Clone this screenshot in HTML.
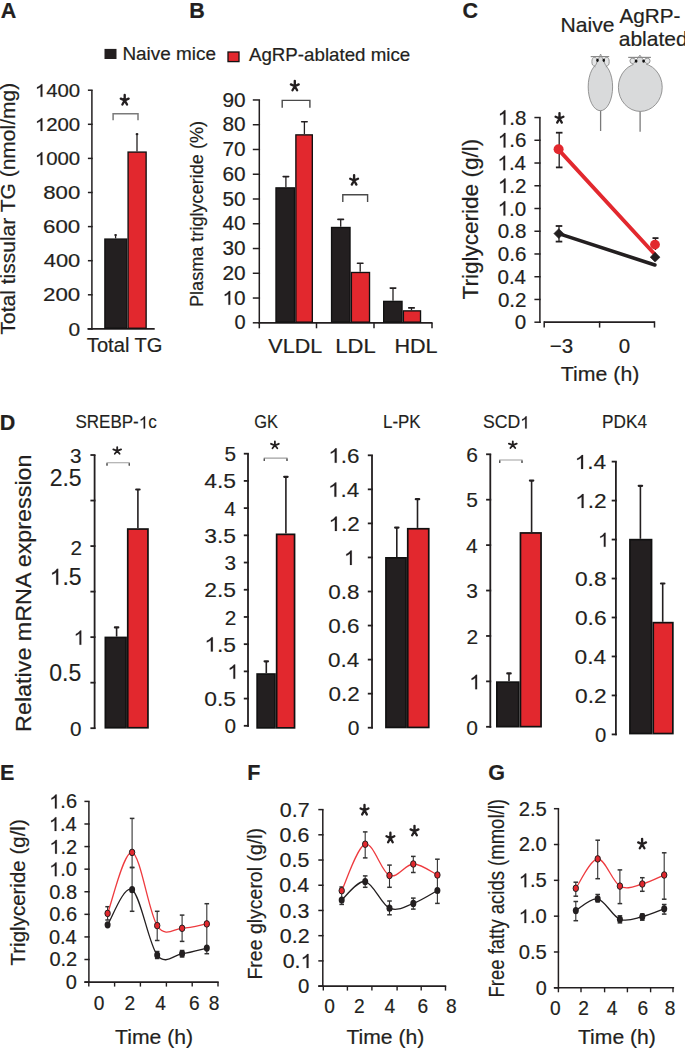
<!DOCTYPE html>
<html><head><meta charset="utf-8"><style>
html,body{margin:0;padding:0;background:#fff;}
svg{display:block;}
text{font-family:"Liberation Sans", sans-serif;fill:#231f20;stroke:#231f20;stroke-width:0.2px;}
.g1{fill:#231f20;stroke:#231f20;stroke-width:0.2px;}
.ns{stroke-width:0.15px;}
</style></head><body>
<svg width="685" height="1049" viewBox="0 0 685 1049">
<rect width="685" height="1049" fill="#fff"/>
<text x="0.66" y="18.00" font-size="21.5" font-weight="bold">A</text>
<rect x="104.50" y="48.90" width="12.00" height="10.10" fill="#231f20"/>
<text x="122.44" y="60.20" font-size="18.8" textLength="93.58" lengthAdjust="spacingAndGlyphs">Naive mice</text>
<rect x="228.00" y="52.00" width="11.00" height="9.60" fill="#e2282e" stroke="#111" stroke-width="1.3"/>
<text x="248.95" y="61.00" font-size="18.5" textLength="161.25" lengthAdjust="spacingAndGlyphs">AgRP-ablated mice</text>
<line x1="91.90" y1="90.20" x2="91.90" y2="329.65" stroke="#231f20" stroke-width="1.5" stroke-linecap="butt"/>
<line x1="87.90" y1="328.90" x2="92.65" y2="328.90" stroke="#231f20" stroke-width="1.5" stroke-linecap="butt"/>
<line x1="87.90" y1="294.80" x2="92.65" y2="294.80" stroke="#231f20" stroke-width="1.5" stroke-linecap="butt"/>
<line x1="87.90" y1="260.70" x2="92.65" y2="260.70" stroke="#231f20" stroke-width="1.5" stroke-linecap="butt"/>
<line x1="87.90" y1="226.60" x2="92.65" y2="226.60" stroke="#231f20" stroke-width="1.5" stroke-linecap="butt"/>
<line x1="87.90" y1="192.50" x2="92.65" y2="192.50" stroke="#231f20" stroke-width="1.5" stroke-linecap="butt"/>
<line x1="87.90" y1="158.40" x2="92.65" y2="158.40" stroke="#231f20" stroke-width="1.5" stroke-linecap="butt"/>
<line x1="87.90" y1="124.30" x2="92.65" y2="124.30" stroke="#231f20" stroke-width="1.5" stroke-linecap="butt"/>
<line x1="87.90" y1="90.20" x2="92.65" y2="90.20" stroke="#231f20" stroke-width="1.5" stroke-linecap="butt"/>
<text x="68.56" y="335.56" font-size="18.5" textLength="11.65" lengthAdjust="spacingAndGlyphs">0</text>
<text x="43.09" y="301.46" font-size="18.5" textLength="37.17" lengthAdjust="spacingAndGlyphs">200</text>
<text x="43.71" y="267.36" font-size="18.5" textLength="36.54" lengthAdjust="spacingAndGlyphs">400</text>
<text x="43.09" y="233.26" font-size="18.5" textLength="37.17" lengthAdjust="spacingAndGlyphs">600</text>
<text x="43.26" y="199.16" font-size="18.5" textLength="37.00" lengthAdjust="spacingAndGlyphs">800</text>
<text x="34.79" y="165.06" font-size="18.5" textLength="45.42" lengthAdjust="spacingAndGlyphs"> 000</text>
<path class="g1" d="M42.39 165.06 L40.60 165.06 L40.60 155.12 Q39.95 155.66 38.89 156.21 Q37.84 156.75 37.00 157.02 L37.00 155.48 Q38.51 154.85 39.63 153.95 Q40.76 153.05 41.23 152.33 L42.39 152.33 Z"/>
<text x="34.79" y="130.96" font-size="18.5" textLength="45.42" lengthAdjust="spacingAndGlyphs"> 200</text>
<path class="g1" d="M42.39 130.96 L40.60 130.96 L40.60 121.02 Q39.95 121.56 38.89 122.11 Q37.84 122.65 37.00 122.92 L37.00 121.38 Q38.51 120.75 39.63 119.85 Q40.76 118.95 41.23 118.23 L42.39 118.23 Z"/>
<text x="34.79" y="96.86" font-size="18.5" textLength="45.42" lengthAdjust="spacingAndGlyphs"> 400</text>
<path class="g1" d="M42.39 96.86 L40.60 96.86 L40.60 86.92 Q39.95 87.46 38.89 88.01 Q37.84 88.55 37.00 88.82 L37.00 87.28 Q38.51 86.65 39.63 85.75 Q40.76 84.85 41.23 84.13 L42.39 84.13 Z"/>
<line x1="87.50" y1="328.90" x2="154.70" y2="328.90" stroke="#231f20" stroke-width="1.8" stroke-linecap="butt"/>
<rect x="104.88" y="239.08" width="21.85" height="89.15" fill="#231f20" stroke="#111" stroke-width="1.35"/>
<rect x="128.08" y="152.08" width="18.05" height="176.15" fill="#e2282e" stroke="#111" stroke-width="1.35"/>
<line x1="115.60" y1="238.40" x2="115.60" y2="235.00" stroke="#231f20" stroke-width="1.3" stroke-linecap="butt"/>
<ellipse cx="115.6" cy="235.0" rx="1.4" ry="1.1" fill="#231f20"/>
<line x1="137.00" y1="151.40" x2="137.00" y2="134.20" stroke="#231f20" stroke-width="1.3" stroke-linecap="butt"/>
<ellipse cx="137.0" cy="134.2" rx="1.4" ry="1.1" fill="#231f20"/>
<polyline points="113.10,120.20 113.10,113.70 138.00,113.70 138.00,120.20" fill="none" stroke="#7a7a7a" stroke-width="1.5"/>
<path d="M124.70 100.40L124.70 95.00M124.70 100.40L120.80 98.60M124.70 100.40L128.60 98.60M124.70 100.40L122.40 104.50M124.70 100.40L127.00 104.50" stroke="#231f20" stroke-width="2.35" stroke-linecap="round" fill="none"/>
<text x="86.85" y="351.60" font-size="20" textLength="75.68" lengthAdjust="spacingAndGlyphs">Total TG</text>
<text x="15.40" y="334.47" transform="rotate(-90 15.40 334.47)" font-size="21">Total tissular TG (nmol/mg)</text>
<text x="189.35" y="18.00" font-size="21.5" font-weight="bold">B</text>
<line x1="259.30" y1="99.96" x2="259.30" y2="323.55" stroke="#231f20" stroke-width="1.5" stroke-linecap="butt"/>
<line x1="252.80" y1="322.80" x2="260.05" y2="322.80" stroke="#231f20" stroke-width="1.5" stroke-linecap="butt"/>
<line x1="252.80" y1="298.04" x2="260.05" y2="298.04" stroke="#231f20" stroke-width="1.5" stroke-linecap="butt"/>
<line x1="252.80" y1="273.28" x2="260.05" y2="273.28" stroke="#231f20" stroke-width="1.5" stroke-linecap="butt"/>
<line x1="252.80" y1="248.52" x2="260.05" y2="248.52" stroke="#231f20" stroke-width="1.5" stroke-linecap="butt"/>
<line x1="252.80" y1="223.76" x2="260.05" y2="223.76" stroke="#231f20" stroke-width="1.5" stroke-linecap="butt"/>
<line x1="252.80" y1="199.00" x2="260.05" y2="199.00" stroke="#231f20" stroke-width="1.5" stroke-linecap="butt"/>
<line x1="252.80" y1="174.24" x2="260.05" y2="174.24" stroke="#231f20" stroke-width="1.5" stroke-linecap="butt"/>
<line x1="252.80" y1="149.48" x2="260.05" y2="149.48" stroke="#231f20" stroke-width="1.5" stroke-linecap="butt"/>
<line x1="252.80" y1="124.72" x2="260.05" y2="124.72" stroke="#231f20" stroke-width="1.5" stroke-linecap="butt"/>
<line x1="252.80" y1="99.96" x2="260.05" y2="99.96" stroke="#231f20" stroke-width="1.5" stroke-linecap="butt"/>
<text x="234.45" y="329.48" font-size="20">0</text>
<text x="222.49" y="304.72" font-size="20" textLength="23.14" lengthAdjust="spacingAndGlyphs"> 0</text>
<path class="g1" d="M230.24 304.72 L228.41 304.72 L228.41 293.97 Q227.75 294.56 226.68 295.14 Q225.60 295.73 224.75 296.02 L224.75 294.36 Q226.28 293.68 227.43 292.70 Q228.58 291.73 229.05 290.96 L230.24 290.96 Z"/>
<text x="222.49" y="279.96" font-size="20" textLength="23.14" lengthAdjust="spacingAndGlyphs">20</text>
<text x="222.49" y="255.20" font-size="20" textLength="23.14" lengthAdjust="spacingAndGlyphs">30</text>
<text x="222.49" y="230.44" font-size="20" textLength="23.14" lengthAdjust="spacingAndGlyphs">40</text>
<text x="222.49" y="205.68" font-size="20" textLength="23.14" lengthAdjust="spacingAndGlyphs">50</text>
<text x="222.49" y="180.92" font-size="20" textLength="23.14" lengthAdjust="spacingAndGlyphs">60</text>
<text x="222.49" y="156.16" font-size="20" textLength="23.14" lengthAdjust="spacingAndGlyphs">70</text>
<text x="222.49" y="131.40" font-size="20" textLength="23.14" lengthAdjust="spacingAndGlyphs">80</text>
<text x="222.49" y="106.64" font-size="20" textLength="23.14" lengthAdjust="spacingAndGlyphs">90</text>
<line x1="258.55" y1="322.80" x2="432.50" y2="322.80" stroke="#231f20" stroke-width="1.8" stroke-linecap="butt"/>
<line x1="259.30" y1="322.80" x2="259.30" y2="328.30" stroke="#231f20" stroke-width="1.5" stroke-linecap="butt"/>
<line x1="316.50" y1="322.80" x2="316.50" y2="328.30" stroke="#231f20" stroke-width="1.5" stroke-linecap="butt"/>
<line x1="374.00" y1="322.80" x2="374.00" y2="328.30" stroke="#231f20" stroke-width="1.5" stroke-linecap="butt"/>
<line x1="432.00" y1="322.80" x2="432.00" y2="328.30" stroke="#231f20" stroke-width="1.5" stroke-linecap="butt"/>
<rect x="275.98" y="187.88" width="18.55" height="134.25" fill="#231f20" stroke="#111" stroke-width="1.35"/>
<rect x="295.88" y="134.88" width="16.45" height="187.25" fill="#e2282e" stroke="#111" stroke-width="1.35"/>
<line x1="285.90" y1="187.20" x2="285.90" y2="176.60" stroke="#231f20" stroke-width="1.3" stroke-linecap="butt"/>
<line x1="283.15" y1="176.60" x2="288.65" y2="176.60" stroke="#231f20" stroke-width="1.6" stroke-linecap="round"/>
<line x1="304.40" y1="134.20" x2="304.40" y2="121.80" stroke="#231f20" stroke-width="1.3" stroke-linecap="butt"/>
<line x1="301.65" y1="121.80" x2="307.15" y2="121.80" stroke="#231f20" stroke-width="1.6" stroke-linecap="round"/>
<rect x="331.57" y="227.48" width="18.45" height="94.65" fill="#231f20" stroke="#111" stroke-width="1.35"/>
<rect x="351.38" y="272.48" width="18.15" height="49.65" fill="#e2282e" stroke="#111" stroke-width="1.35"/>
<line x1="340.70" y1="226.80" x2="340.70" y2="219.40" stroke="#231f20" stroke-width="1.3" stroke-linecap="butt"/>
<line x1="337.95" y1="219.40" x2="343.45" y2="219.40" stroke="#231f20" stroke-width="1.6" stroke-linecap="round"/>
<line x1="360.20" y1="271.80" x2="360.20" y2="263.20" stroke="#231f20" stroke-width="1.3" stroke-linecap="butt"/>
<line x1="357.45" y1="263.20" x2="362.95" y2="263.20" stroke="#231f20" stroke-width="1.6" stroke-linecap="round"/>
<rect x="383.68" y="301.38" width="18.35" height="20.75" fill="#231f20" stroke="#111" stroke-width="1.35"/>
<rect x="403.38" y="310.88" width="17.15" height="11.25" fill="#e2282e" stroke="#111" stroke-width="1.35"/>
<line x1="393.00" y1="300.70" x2="393.00" y2="288.10" stroke="#231f20" stroke-width="1.3" stroke-linecap="butt"/>
<line x1="390.25" y1="288.10" x2="395.75" y2="288.10" stroke="#231f20" stroke-width="1.6" stroke-linecap="round"/>
<line x1="411.50" y1="310.20" x2="411.50" y2="307.90" stroke="#231f20" stroke-width="1.3" stroke-linecap="butt"/>
<line x1="408.75" y1="307.90" x2="414.25" y2="307.90" stroke="#231f20" stroke-width="1.6" stroke-linecap="round"/>
<polyline points="282.20,107.70 282.20,100.40 309.90,100.40 309.90,107.70" fill="none" stroke="#4a4a4a" stroke-width="1.4"/>
<path d="M294.80 86.20L294.80 80.80M294.80 86.20L290.90 84.40M294.80 86.20L298.70 84.40M294.80 86.20L292.50 90.30M294.80 86.20L297.10 90.30" stroke="#231f20" stroke-width="2.35" stroke-linecap="round" fill="none"/>
<polyline points="342.80,202.10 342.80,194.80 367.60,194.80 367.60,202.10" fill="none" stroke="#4a4a4a" stroke-width="1.4"/>
<path d="M354.10 180.50L354.10 175.10M354.10 180.50L350.20 178.70M354.10 180.50L358.00 178.70M354.10 180.50L351.80 184.60M354.10 180.50L356.40 184.60" stroke="#231f20" stroke-width="2.35" stroke-linecap="round" fill="none"/>
<text x="268.39" y="352.70" font-size="20.8" textLength="53.84" lengthAdjust="spacingAndGlyphs">VLDL</text>
<text x="335.28" y="352.70" font-size="20.8" textLength="40.38" lengthAdjust="spacingAndGlyphs">LDL</text>
<text x="394.42" y="352.70" font-size="20.8" textLength="43.19" lengthAdjust="spacingAndGlyphs">HDL</text>
<text x="203.30" y="306.99" transform="rotate(-90 203.30 306.99)" font-size="18.8" textLength="186.03" lengthAdjust="spacingAndGlyphs">Plasma triglyceride (%)</text>
<text x="462.44" y="18.20" font-size="21.5" font-weight="bold">C</text>
<text x="560.56" y="31.80" font-size="20.3" textLength="53.98" lengthAdjust="spacingAndGlyphs">Naive</text>
<text x="619.45" y="22.80" font-size="21" textLength="60.99" lengthAdjust="spacingAndGlyphs">AgRP-</text>
<text x="618.71" y="46.00" font-size="21">ablated</text>
<line x1="600.60" y1="109.70" x2="600.60" y2="131.00" stroke="#7a7a7a" stroke-width="1.3" stroke-linecap="butt"/>
<ellipse cx="594.50" cy="61.70" rx="2.6" ry="4.3" fill="#e4e5e6" stroke="#8a8a8a" stroke-width="0.9"/>
<ellipse cx="606.60" cy="61.70" rx="2.6" ry="4.3" fill="#e4e5e6" stroke="#8a8a8a" stroke-width="0.9"/>
<ellipse cx="600.40" cy="86.95" rx="12.20" ry="23.75" fill="#d9dadb" stroke="#8a8a8a" stroke-width="0.9"/>
<path d="M600.60 54.00 Q597.99 60.50 594.80 67.00 L606.40 67.00 Q603.21 60.50 600.60 54.00 Z" fill="#d9dadb" stroke="#8a8a8a" stroke-width="0.8"/>
<rect x="595.40" y="65.50" width="10.40" height="3" fill="#d9dadb"/>
<line x1="590.70" y1="56.60" x2="609.20" y2="56.60" stroke="#8a8a8a" stroke-width="1.2" stroke-linecap="butt"/>
<ellipse cx="597.50" cy="60.30" rx="1.15" ry="1.7" fill="#111"/>
<ellipse cx="603.80" cy="60.30" rx="1.15" ry="1.7" fill="#111"/>
<line x1="640.10" y1="110.40" x2="640.10" y2="131.70" stroke="#7a7a7a" stroke-width="1.3" stroke-linecap="butt"/>
<ellipse cx="632.80" cy="60.90" rx="2.9" ry="2.7" fill="#e4e5e6" stroke="#8a8a8a" stroke-width="0.9"/>
<ellipse cx="647.20" cy="60.90" rx="2.9" ry="2.7" fill="#e4e5e6" stroke="#8a8a8a" stroke-width="0.9"/>
<ellipse cx="640.30" cy="87.30" rx="21.90" ry="24.10" fill="#d9dadb" stroke="#8a8a8a" stroke-width="0.9"/>
<path d="M639.90 55.10 Q636.75 59.80 632.90 64.50 L646.90 64.50 Q643.05 59.80 639.90 55.10 Z" fill="#d9dadb" stroke="#8a8a8a" stroke-width="0.8"/>
<rect x="633.50" y="63.00" width="12.80" height="3" fill="#d9dadb"/>
<line x1="628.20" y1="57.40" x2="650.90" y2="57.40" stroke="#8a8a8a" stroke-width="1.2" stroke-linecap="butt"/>
<ellipse cx="636.10" cy="61.10" rx="1.4" ry="1.6" fill="#111"/>
<ellipse cx="643.60" cy="61.10" rx="1.4" ry="1.6" fill="#111"/>
<line x1="539.90" y1="117.54" x2="539.90" y2="322.95" stroke="#231f20" stroke-width="1.5" stroke-linecap="butt"/>
<line x1="534.40" y1="322.20" x2="540.65" y2="322.20" stroke="#231f20" stroke-width="1.5" stroke-linecap="butt"/>
<line x1="534.40" y1="299.46" x2="540.65" y2="299.46" stroke="#231f20" stroke-width="1.5" stroke-linecap="butt"/>
<line x1="534.40" y1="276.72" x2="540.65" y2="276.72" stroke="#231f20" stroke-width="1.5" stroke-linecap="butt"/>
<line x1="534.40" y1="253.98" x2="540.65" y2="253.98" stroke="#231f20" stroke-width="1.5" stroke-linecap="butt"/>
<line x1="534.40" y1="231.24" x2="540.65" y2="231.24" stroke="#231f20" stroke-width="1.5" stroke-linecap="butt"/>
<line x1="534.40" y1="208.50" x2="540.65" y2="208.50" stroke="#231f20" stroke-width="1.5" stroke-linecap="butt"/>
<line x1="534.40" y1="185.76" x2="540.65" y2="185.76" stroke="#231f20" stroke-width="1.5" stroke-linecap="butt"/>
<line x1="534.40" y1="163.02" x2="540.65" y2="163.02" stroke="#231f20" stroke-width="1.5" stroke-linecap="butt"/>
<line x1="534.40" y1="140.28" x2="540.65" y2="140.28" stroke="#231f20" stroke-width="1.5" stroke-linecap="butt"/>
<line x1="534.40" y1="117.54" x2="540.65" y2="117.54" stroke="#231f20" stroke-width="1.5" stroke-linecap="butt"/>
<text x="514.85" y="329.32" font-size="21" textLength="11.45" lengthAdjust="spacingAndGlyphs">0</text>
<text x="497.92" y="306.58" font-size="21" textLength="28.61" lengthAdjust="spacingAndGlyphs">0.2</text>
<text x="497.46" y="283.84" font-size="21" textLength="28.61" lengthAdjust="spacingAndGlyphs">0.4</text>
<text x="497.77" y="261.10" font-size="21" textLength="28.61" lengthAdjust="spacingAndGlyphs">0.6</text>
<text x="497.77" y="238.36" font-size="21" textLength="28.61" lengthAdjust="spacingAndGlyphs">0.8</text>
<text x="497.67" y="215.62" font-size="21" textLength="28.61" lengthAdjust="spacingAndGlyphs"> .0</text>
<path class="g1" d="M505.33 215.62 L503.52 215.62 L503.52 204.34 Q502.87 204.95 501.81 205.57 Q500.74 206.19 499.90 206.49 L499.90 204.75 Q501.41 204.03 502.55 203.01 Q503.68 201.98 504.16 201.17 L505.33 201.17 Z"/>
<text x="497.92" y="192.98" font-size="21" textLength="28.61" lengthAdjust="spacingAndGlyphs"> .2</text>
<path class="g1" d="M505.59 192.98 L503.78 192.98 L503.78 181.70 Q503.13 182.32 502.06 182.93 Q501.00 183.55 500.15 183.86 L500.15 182.11 Q501.67 181.40 502.81 180.37 Q503.94 179.35 504.41 178.54 L505.59 178.54 Z"/>
<text x="497.46" y="170.14" font-size="21" textLength="28.61" lengthAdjust="spacingAndGlyphs"> .4</text>
<path class="g1" d="M505.13 170.14 L503.32 170.14 L503.32 158.86 Q502.67 159.48 501.60 160.10 Q500.53 160.71 499.69 161.02 L499.69 159.27 Q501.21 158.56 502.34 157.53 Q503.48 156.51 503.95 155.70 L505.13 155.70 Z"/>
<text x="497.77" y="147.40" font-size="21" textLength="28.61" lengthAdjust="spacingAndGlyphs"> .6</text>
<path class="g1" d="M505.44 147.40 L503.63 147.40 L503.63 136.12 Q502.97 136.73 501.91 137.35 Q500.84 137.97 500.00 138.27 L500.00 136.53 Q501.52 135.81 502.65 134.79 Q503.79 133.76 504.26 132.95 L505.44 132.95 Z"/>
<text x="497.77" y="124.66" font-size="21" textLength="28.61" lengthAdjust="spacingAndGlyphs"> .8</text>
<path class="g1" d="M505.44 124.66 L503.63 124.66 L503.63 113.38 Q502.97 113.99 501.91 114.61 Q500.84 115.23 500.00 115.53 L500.00 113.79 Q501.52 113.07 502.65 112.05 Q503.79 111.02 504.26 110.21 L505.44 110.21 Z"/>
<line x1="544.20" y1="322.20" x2="654.50" y2="322.20" stroke="#231f20" stroke-width="1.8" stroke-linecap="butt"/>
<line x1="544.20" y1="321.30" x2="544.20" y2="327.60" stroke="#231f20" stroke-width="1.5" stroke-linecap="butt"/>
<line x1="599.60" y1="321.30" x2="599.60" y2="327.60" stroke="#231f20" stroke-width="1.5" stroke-linecap="butt"/>
<line x1="654.50" y1="321.30" x2="654.50" y2="327.60" stroke="#231f20" stroke-width="1.5" stroke-linecap="butt"/>
<text x="549.67" y="353.00" font-size="20.5">−3</text>
<text x="618.79" y="353.00" font-size="20.5">0</text>
<text x="560.82" y="381.30" font-size="20.6" textLength="78.51" lengthAdjust="spacingAndGlyphs">Time (h)</text>
<text x="478.00" y="299.51" transform="rotate(-90 478.00 299.51)" font-size="21.5" textLength="160.74" lengthAdjust="spacingAndGlyphs">Triglyceride (g/l)</text>
<line x1="558.70" y1="233.60" x2="654.90" y2="265.00" stroke="#231f20" stroke-width="3.6" stroke-linecap="round"/>
<line x1="558.30" y1="149.40" x2="654.50" y2="254.00" stroke="#e2282e" stroke-width="3.8" stroke-linecap="round"/>
<line x1="559.20" y1="132.70" x2="559.20" y2="167.40" stroke="#231f20" stroke-width="1.3" stroke-linecap="butt"/>
<line x1="555.90" y1="132.70" x2="562.50" y2="132.70" stroke="#231f20" stroke-width="1.8" stroke-linecap="butt"/>
<line x1="555.90" y1="167.40" x2="562.50" y2="167.40" stroke="#231f20" stroke-width="1.8" stroke-linecap="butt"/>
<line x1="559.00" y1="226.00" x2="559.00" y2="241.60" stroke="#231f20" stroke-width="1.3" stroke-linecap="butt"/>
<line x1="555.70" y1="226.00" x2="562.30" y2="226.00" stroke="#231f20" stroke-width="1.8" stroke-linecap="butt"/>
<line x1="555.70" y1="241.60" x2="562.30" y2="241.60" stroke="#231f20" stroke-width="1.8" stroke-linecap="butt"/>
<line x1="655.50" y1="238.10" x2="655.50" y2="250.00" stroke="#231f20" stroke-width="1.3" stroke-linecap="butt"/>
<line x1="652.50" y1="238.10" x2="658.50" y2="238.10" stroke="#231f20" stroke-width="1.8" stroke-linecap="butt"/>
<path d="M558.8 228.7 L563.7 233.6 L558.8 238.5 L553.9 233.6 Z" fill="#231f20" stroke="#231f20" stroke-width="0.6" stroke-linejoin="round"/>
<path d="M655.1 252.3 L660.0 257.2 L655.1 262.1 L650.2 257.2 Z" fill="#231f20" stroke="#231f20" stroke-width="0.6" stroke-linejoin="round"/>
<circle cx="558.6" cy="149.3" r="5.0" fill="#e2282e"/>
<circle cx="655.0" cy="244.6" r="4.9" fill="#e2282e"/>
<path d="M559.50 118.50L559.50 113.10M559.50 118.50L555.60 116.70M559.50 118.50L563.40 116.70M559.50 118.50L557.20 122.60M559.50 118.50L561.80 122.60" stroke="#231f20" stroke-width="2.35" stroke-linecap="round" fill="none"/>
<text x="-0.25" y="429.60" font-size="21.5" font-weight="bold">D</text>
<text x="75.43" y="428.40" font-size="17.5" class="ns" textLength="81.32" lengthAdjust="spacingAndGlyphs">SREBP- c</text>
<path class="g1 ns" d="M145.12 428.40 L143.63 428.40 L143.63 419.00 Q143.09 419.51 142.21 420.03 Q141.33 420.54 140.63 420.80 L140.63 419.34 Q141.88 418.74 142.82 417.89 Q143.76 417.04 144.15 416.36 L145.12 416.36 Z"/>
<text x="254.18" y="428.40" font-size="17.5" class="ns" textLength="23.72" lengthAdjust="spacingAndGlyphs">GK</text>
<text x="383.00" y="428.40" font-size="17.5" class="ns" textLength="37.62" lengthAdjust="spacingAndGlyphs">L-PK</text>
<text x="482.91" y="428.40" font-size="17.5" class="ns" textLength="47.03" lengthAdjust="spacingAndGlyphs">SCD </text>
<path class="g1 ns" d="M526.70 428.40 L525.15 428.40 L525.15 419.00 Q524.59 419.51 523.68 420.03 Q522.77 420.54 522.04 420.80 L522.04 419.34 Q523.34 418.74 524.32 417.89 Q525.29 417.04 525.69 416.36 L526.70 416.36 Z"/>
<text x="602.08" y="428.40" font-size="17.5" class="ns" textLength="44.93" lengthAdjust="spacingAndGlyphs">PDK4</text>
<line x1="94.60" y1="455.02" x2="94.60" y2="729.10" stroke="#231f20" stroke-width="1.8" stroke-linecap="butt"/>
<line x1="90.40" y1="728.20" x2="95.50" y2="728.20" stroke="#231f20" stroke-width="1.8" stroke-linecap="butt"/>
<line x1="90.40" y1="682.67" x2="95.50" y2="682.67" stroke="#231f20" stroke-width="1.8" stroke-linecap="butt"/>
<line x1="90.40" y1="637.14" x2="95.50" y2="637.14" stroke="#231f20" stroke-width="1.8" stroke-linecap="butt"/>
<line x1="90.40" y1="591.61" x2="95.50" y2="591.61" stroke="#231f20" stroke-width="1.8" stroke-linecap="butt"/>
<line x1="90.40" y1="546.08" x2="95.50" y2="546.08" stroke="#231f20" stroke-width="1.8" stroke-linecap="butt"/>
<line x1="90.40" y1="500.55" x2="95.50" y2="500.55" stroke="#231f20" stroke-width="1.8" stroke-linecap="butt"/>
<line x1="90.40" y1="455.02" x2="95.50" y2="455.02" stroke="#231f20" stroke-width="1.8" stroke-linecap="butt"/>
<text x="70.09" y="462.82" font-size="20.7" class="ns">3</text>
<text x="49.65" y="486.11" font-size="23" class="ns">2.5</text>
<text x="70.45" y="555.02" font-size="20.7" class="ns">2</text>
<text x="49.65" y="584.70" font-size="23" class="ns"> .5</text>
<path class="g1 ns" d="M58.22 584.70 L56.20 584.70 L56.20 572.34 Q55.47 573.02 54.28 573.69 Q53.09 574.36 52.14 574.70 L52.14 572.79 Q53.84 572.01 55.11 570.88 Q56.38 569.76 56.90 568.87 L58.22 568.87 Z"/>
<text x="73.59" y="644.72" font-size="20.7" class="ns"> </text>
<path class="g1 ns" d="M81.30 644.72 L79.48 644.72 L79.48 633.60 Q78.82 634.21 77.75 634.82 Q76.68 635.42 75.83 635.73 L75.83 634.01 Q77.36 633.30 78.50 632.29 Q79.64 631.28 80.12 630.48 L81.30 630.48 Z"/>
<text x="49.25" y="680.91" font-size="23" class="ns">0.5</text>
<text x="69.89" y="735.52" font-size="20.7" class="ns">0</text>
<rect x="105.35" y="637.45" width="20.70" height="90.30" fill="#231f20" stroke="#111" stroke-width="1.7"/>
<rect x="127.75" y="529.05" width="20.20" height="198.70" fill="#e2282e" stroke="#111" stroke-width="1.7"/>
<line x1="116.60" y1="636.60" x2="116.60" y2="627.40" stroke="#231f20" stroke-width="1.6" stroke-linecap="butt"/>
<line x1="114.90" y1="627.40" x2="118.30" y2="627.40" stroke="#231f20" stroke-width="2.2" stroke-linecap="round"/>
<line x1="137.90" y1="528.20" x2="137.90" y2="489.50" stroke="#231f20" stroke-width="1.6" stroke-linecap="butt"/>
<line x1="136.20" y1="489.50" x2="139.60" y2="489.50" stroke="#231f20" stroke-width="2.2" stroke-linecap="round"/>
<polyline points="107.00,465.30 107.00,462.70 129.30,462.70 129.30,465.30" fill="none" stroke="#a0a0a0" stroke-width="1.1"/>
<line x1="107.00" y1="463.20" x2="107.00" y2="465.70" stroke="#555" stroke-width="1.4" stroke-linecap="butt"/>
<line x1="129.30" y1="463.20" x2="129.30" y2="465.70" stroke="#555" stroke-width="1.4" stroke-linecap="butt"/>
<path d="M117.20 450.90L117.20 447.10M117.20 450.90L113.30 449.40M117.20 450.90L121.10 449.40M117.20 450.90L114.80 453.80M117.20 450.90L119.60 453.80" stroke="#231f20" stroke-width="1.8" stroke-linecap="round" fill="none"/>
<line x1="248.00" y1="453.70" x2="248.00" y2="726.70" stroke="#231f20" stroke-width="1.8" stroke-linecap="butt"/>
<line x1="243.80" y1="725.80" x2="248.90" y2="725.80" stroke="#231f20" stroke-width="1.8" stroke-linecap="butt"/>
<line x1="243.80" y1="698.59" x2="248.90" y2="698.59" stroke="#231f20" stroke-width="1.8" stroke-linecap="butt"/>
<line x1="243.80" y1="671.38" x2="248.90" y2="671.38" stroke="#231f20" stroke-width="1.8" stroke-linecap="butt"/>
<line x1="243.80" y1="644.17" x2="248.90" y2="644.17" stroke="#231f20" stroke-width="1.8" stroke-linecap="butt"/>
<line x1="243.80" y1="616.96" x2="248.90" y2="616.96" stroke="#231f20" stroke-width="1.8" stroke-linecap="butt"/>
<line x1="243.80" y1="589.75" x2="248.90" y2="589.75" stroke="#231f20" stroke-width="1.8" stroke-linecap="butt"/>
<line x1="243.80" y1="562.54" x2="248.90" y2="562.54" stroke="#231f20" stroke-width="1.8" stroke-linecap="butt"/>
<line x1="243.80" y1="535.33" x2="248.90" y2="535.33" stroke="#231f20" stroke-width="1.8" stroke-linecap="butt"/>
<line x1="243.80" y1="508.12" x2="248.90" y2="508.12" stroke="#231f20" stroke-width="1.8" stroke-linecap="butt"/>
<line x1="243.80" y1="480.91" x2="248.90" y2="480.91" stroke="#231f20" stroke-width="1.8" stroke-linecap="butt"/>
<line x1="243.80" y1="453.70" x2="248.90" y2="453.70" stroke="#231f20" stroke-width="1.8" stroke-linecap="butt"/>
<text x="224.44" y="733.25" font-size="20.8" class="ns">0</text>
<text x="204.31" y="706.04" font-size="20.8" class="ns" textLength="31.81" lengthAdjust="spacingAndGlyphs">0.5</text>
<text x="227.45" y="678.84" font-size="20.8" class="ns"> </text>
<path class="g1 ns" d="M235.20 678.84 L233.37 678.84 L233.37 667.66 Q232.71 668.27 231.64 668.88 Q230.56 669.49 229.71 669.80 L229.71 668.07 Q231.24 667.36 232.39 666.34 Q233.53 665.33 234.01 664.52 L235.20 664.52 Z"/>
<text x="204.31" y="651.52" font-size="20.8" class="ns" textLength="31.81" lengthAdjust="spacingAndGlyphs"> .5</text>
<path class="g1 ns" d="M212.84 651.52 L210.83 651.52 L210.83 640.35 Q210.10 640.96 208.91 641.57 Q207.73 642.18 206.79 642.48 L206.79 640.76 Q208.48 640.04 209.74 639.03 Q211.00 638.01 211.53 637.21 L212.84 637.21 Z"/>
<text x="224.70" y="624.51" font-size="20.8" class="ns">2</text>
<text x="204.31" y="597.20" font-size="20.8" class="ns" textLength="31.81" lengthAdjust="spacingAndGlyphs">2.5</text>
<text x="224.54" y="569.99" font-size="20.8" class="ns">3</text>
<text x="204.31" y="542.78" font-size="20.8" class="ns" textLength="31.81" lengthAdjust="spacingAndGlyphs">3.5</text>
<text x="224.23" y="515.57" font-size="20.8" class="ns">4</text>
<text x="204.31" y="488.26" font-size="20.8" class="ns" textLength="31.81" lengthAdjust="spacingAndGlyphs">4.5</text>
<text x="224.49" y="461.05" font-size="20.8" class="ns">5</text>
<rect x="257.15" y="674.05" width="17.80" height="53.80" fill="#231f20" stroke="#111" stroke-width="1.7"/>
<rect x="276.65" y="534.35" width="17.90" height="193.50" fill="#e2282e" stroke="#111" stroke-width="1.7"/>
<line x1="266.30" y1="673.20" x2="266.30" y2="661.30" stroke="#231f20" stroke-width="1.6" stroke-linecap="butt"/>
<line x1="264.60" y1="661.30" x2="268.00" y2="661.30" stroke="#231f20" stroke-width="2.2" stroke-linecap="round"/>
<line x1="285.90" y1="533.50" x2="285.90" y2="476.80" stroke="#231f20" stroke-width="1.6" stroke-linecap="butt"/>
<line x1="284.20" y1="476.80" x2="287.60" y2="476.80" stroke="#231f20" stroke-width="2.2" stroke-linecap="round"/>
<polyline points="264.30,460.70 264.30,458.10 287.00,458.10 287.00,460.70" fill="none" stroke="#a0a0a0" stroke-width="1.1"/>
<line x1="264.30" y1="458.60" x2="264.30" y2="461.10" stroke="#555" stroke-width="1.4" stroke-linecap="butt"/>
<line x1="287.00" y1="458.60" x2="287.00" y2="461.10" stroke="#555" stroke-width="1.4" stroke-linecap="butt"/>
<path d="M274.90 445.30L274.90 441.50M274.90 445.30L271.00 443.80M274.90 445.30L278.80 443.80M274.90 445.30L272.50 448.20M274.90 445.30L277.30 448.20" stroke="#231f20" stroke-width="1.8" stroke-linecap="round" fill="none"/>
<line x1="372.00" y1="455.30" x2="372.00" y2="728.60" stroke="#231f20" stroke-width="1.8" stroke-linecap="butt"/>
<line x1="367.80" y1="727.70" x2="372.90" y2="727.70" stroke="#231f20" stroke-width="1.8" stroke-linecap="butt"/>
<line x1="367.80" y1="693.65" x2="372.90" y2="693.65" stroke="#231f20" stroke-width="1.8" stroke-linecap="butt"/>
<line x1="367.80" y1="659.60" x2="372.90" y2="659.60" stroke="#231f20" stroke-width="1.8" stroke-linecap="butt"/>
<line x1="367.80" y1="625.55" x2="372.90" y2="625.55" stroke="#231f20" stroke-width="1.8" stroke-linecap="butt"/>
<line x1="367.80" y1="591.50" x2="372.90" y2="591.50" stroke="#231f20" stroke-width="1.8" stroke-linecap="butt"/>
<line x1="367.80" y1="557.45" x2="372.90" y2="557.45" stroke="#231f20" stroke-width="1.8" stroke-linecap="butt"/>
<line x1="367.80" y1="523.40" x2="372.90" y2="523.40" stroke="#231f20" stroke-width="1.8" stroke-linecap="butt"/>
<line x1="367.80" y1="489.35" x2="372.90" y2="489.35" stroke="#231f20" stroke-width="1.8" stroke-linecap="butt"/>
<line x1="367.80" y1="455.30" x2="372.90" y2="455.30" stroke="#231f20" stroke-width="1.8" stroke-linecap="butt"/>
<text x="347.73" y="735.22" font-size="21" class="ns">0</text>
<text x="328.49" y="701.17" font-size="21" class="ns" textLength="31.24" lengthAdjust="spacingAndGlyphs">0.2</text>
<text x="327.98" y="667.12" font-size="21" class="ns" textLength="31.24" lengthAdjust="spacingAndGlyphs">0.4</text>
<text x="328.32" y="633.07" font-size="21" class="ns" textLength="31.24" lengthAdjust="spacingAndGlyphs">0.6</text>
<text x="328.32" y="599.02" font-size="21" class="ns" textLength="31.24" lengthAdjust="spacingAndGlyphs">0.8</text>
<text x="343.98" y="564.97" font-size="21" class="ns"> </text>
<path class="g1 ns" d="M351.80 564.97 L349.95 564.97 L349.95 553.69 Q349.29 554.31 348.20 554.93 Q347.11 555.54 346.25 555.85 L346.25 554.10 Q347.80 553.39 348.96 552.36 Q350.12 551.34 350.60 550.53 L351.80 550.53 Z"/>
<text x="328.49" y="531.02" font-size="21" class="ns" textLength="31.24" lengthAdjust="spacingAndGlyphs"> .2</text>
<path class="g1 ns" d="M336.86 531.02 L334.89 531.02 L334.89 519.74 Q334.17 520.36 333.01 520.97 Q331.85 521.59 330.93 521.90 L330.93 520.15 Q332.58 519.44 333.82 518.41 Q335.06 517.39 335.58 516.58 L336.86 516.58 Z"/>
<text x="327.98" y="496.87" font-size="21" class="ns" textLength="31.24" lengthAdjust="spacingAndGlyphs"> .4</text>
<path class="g1 ns" d="M336.36 496.87 L334.38 496.87 L334.38 485.59 Q333.67 486.21 332.50 486.83 Q331.34 487.44 330.42 487.75 L330.42 486.00 Q332.08 485.29 333.32 484.26 Q334.56 483.24 335.07 482.43 L336.36 482.43 Z"/>
<text x="328.32" y="462.82" font-size="21" class="ns" textLength="31.24" lengthAdjust="spacingAndGlyphs"> .6</text>
<path class="g1 ns" d="M336.69 462.82 L334.72 462.82 L334.72 451.54 Q334.01 452.15 332.84 452.77 Q331.68 453.39 330.76 453.69 L330.76 451.95 Q332.41 451.23 333.65 450.21 Q334.89 449.18 335.41 448.37 L336.69 448.37 Z"/>
<rect x="385.95" y="557.85" width="20.10" height="169.60" fill="#231f20" stroke="#111" stroke-width="1.7"/>
<rect x="407.75" y="528.75" width="21.00" height="198.70" fill="#e2282e" stroke="#111" stroke-width="1.7"/>
<line x1="396.80" y1="557.00" x2="396.80" y2="527.60" stroke="#231f20" stroke-width="1.6" stroke-linecap="butt"/>
<line x1="395.10" y1="527.60" x2="398.50" y2="527.60" stroke="#231f20" stroke-width="2.2" stroke-linecap="round"/>
<line x1="417.50" y1="527.90" x2="417.50" y2="499.20" stroke="#231f20" stroke-width="1.6" stroke-linecap="butt"/>
<line x1="415.80" y1="499.20" x2="419.20" y2="499.20" stroke="#231f20" stroke-width="2.2" stroke-linecap="round"/>
<line x1="490.30" y1="454.28" x2="490.30" y2="727.70" stroke="#231f20" stroke-width="1.8" stroke-linecap="butt"/>
<line x1="486.10" y1="726.80" x2="491.20" y2="726.80" stroke="#231f20" stroke-width="1.8" stroke-linecap="butt"/>
<line x1="486.10" y1="681.38" x2="491.20" y2="681.38" stroke="#231f20" stroke-width="1.8" stroke-linecap="butt"/>
<line x1="486.10" y1="635.96" x2="491.20" y2="635.96" stroke="#231f20" stroke-width="1.8" stroke-linecap="butt"/>
<line x1="486.10" y1="590.54" x2="491.20" y2="590.54" stroke="#231f20" stroke-width="1.8" stroke-linecap="butt"/>
<line x1="486.10" y1="545.12" x2="491.20" y2="545.12" stroke="#231f20" stroke-width="1.8" stroke-linecap="butt"/>
<line x1="486.10" y1="499.70" x2="491.20" y2="499.70" stroke="#231f20" stroke-width="1.8" stroke-linecap="butt"/>
<line x1="486.10" y1="454.28" x2="491.20" y2="454.28" stroke="#231f20" stroke-width="1.8" stroke-linecap="butt"/>
<text x="466.23" y="734.62" font-size="21" class="ns">0</text>
<text x="469.28" y="689.20" font-size="21" class="ns"> </text>
<path class="g1 ns" d="M477.10 689.20 L475.25 689.20 L475.25 677.92 Q474.59 678.54 473.50 679.16 Q472.41 679.77 471.55 680.08 L471.55 678.33 Q473.10 677.62 474.26 676.59 Q475.42 675.57 475.90 674.76 L477.10 674.76 Z"/>
<text x="466.50" y="643.88" font-size="21" class="ns">2</text>
<text x="466.34" y="598.36" font-size="21" class="ns">3</text>
<text x="466.02" y="552.94" font-size="21" class="ns">4</text>
<text x="466.29" y="507.41" font-size="21" class="ns">5</text>
<text x="466.34" y="462.10" font-size="21" class="ns">6</text>
<rect x="496.85" y="682.15" width="21.90" height="44.50" fill="#231f20" stroke="#111" stroke-width="1.7"/>
<rect x="520.45" y="532.95" width="20.60" height="193.70" fill="#e2282e" stroke="#111" stroke-width="1.7"/>
<line x1="509.00" y1="681.30" x2="509.00" y2="673.40" stroke="#231f20" stroke-width="1.6" stroke-linecap="butt"/>
<line x1="507.30" y1="673.40" x2="510.70" y2="673.40" stroke="#231f20" stroke-width="2.2" stroke-linecap="round"/>
<line x1="531.60" y1="532.10" x2="531.60" y2="480.60" stroke="#231f20" stroke-width="1.6" stroke-linecap="butt"/>
<line x1="529.90" y1="480.60" x2="533.30" y2="480.60" stroke="#231f20" stroke-width="2.2" stroke-linecap="round"/>
<polyline points="499.70,462.60 499.70,460.00 522.00,460.00 522.00,462.60" fill="none" stroke="#a0a0a0" stroke-width="1.1"/>
<line x1="499.70" y1="460.50" x2="499.70" y2="463.00" stroke="#555" stroke-width="1.4" stroke-linecap="butt"/>
<line x1="522.00" y1="460.50" x2="522.00" y2="463.00" stroke="#555" stroke-width="1.4" stroke-linecap="butt"/>
<path d="M512.80 445.10L512.80 441.30M512.80 445.10L508.90 443.60M512.80 445.10L516.70 443.60M512.80 445.10L510.40 448.00M512.80 445.10L515.20 448.00" stroke="#231f20" stroke-width="1.8" stroke-linecap="round" fill="none"/>
<line x1="615.90" y1="461.61" x2="615.90" y2="735.30" stroke="#231f20" stroke-width="1.8" stroke-linecap="butt"/>
<line x1="611.70" y1="734.40" x2="616.80" y2="734.40" stroke="#231f20" stroke-width="1.8" stroke-linecap="butt"/>
<line x1="611.70" y1="695.43" x2="616.80" y2="695.43" stroke="#231f20" stroke-width="1.8" stroke-linecap="butt"/>
<line x1="611.70" y1="656.46" x2="616.80" y2="656.46" stroke="#231f20" stroke-width="1.8" stroke-linecap="butt"/>
<line x1="611.70" y1="617.49" x2="616.80" y2="617.49" stroke="#231f20" stroke-width="1.8" stroke-linecap="butt"/>
<line x1="611.70" y1="578.52" x2="616.80" y2="578.52" stroke="#231f20" stroke-width="1.8" stroke-linecap="butt"/>
<line x1="611.70" y1="539.55" x2="616.80" y2="539.55" stroke="#231f20" stroke-width="1.8" stroke-linecap="butt"/>
<line x1="611.70" y1="500.58" x2="616.80" y2="500.58" stroke="#231f20" stroke-width="1.8" stroke-linecap="butt"/>
<line x1="611.70" y1="461.61" x2="616.80" y2="461.61" stroke="#231f20" stroke-width="1.8" stroke-linecap="butt"/>
<text x="595.09" y="741.68" font-size="20.3" class="ns">0</text>
<text x="575.13" y="702.71" font-size="20.3" class="ns" textLength="31.61" lengthAdjust="spacingAndGlyphs">0.2</text>
<text x="574.62" y="663.74" font-size="20.3" class="ns" textLength="31.61" lengthAdjust="spacingAndGlyphs">0.4</text>
<text x="574.96" y="624.77" font-size="20.3" class="ns" textLength="31.61" lengthAdjust="spacingAndGlyphs">0.6</text>
<text x="574.96" y="585.80" font-size="20.3" class="ns" textLength="31.61" lengthAdjust="spacingAndGlyphs">0.8</text>
<text x="598.04" y="546.83" font-size="20.3" class="ns"> </text>
<path class="g1 ns" d="M605.60 546.83 L603.82 546.83 L603.82 535.93 Q603.17 536.52 602.12 537.12 Q601.07 537.71 600.24 538.01 L600.24 536.33 Q601.73 535.63 602.85 534.64 Q603.97 533.65 604.44 532.87 L605.60 532.87 Z"/>
<text x="575.13" y="507.96" font-size="20.3" class="ns" textLength="31.61" lengthAdjust="spacingAndGlyphs"> .2</text>
<path class="g1 ns" d="M583.60 507.96 L581.61 507.96 L581.61 497.06 Q580.88 497.65 579.71 498.25 Q578.53 498.84 577.60 499.14 L577.60 497.45 Q579.27 496.76 580.53 495.77 Q581.78 494.78 582.31 493.99 L583.60 493.99 Z"/>
<text x="574.62" y="468.89" font-size="20.3" class="ns" textLength="31.61" lengthAdjust="spacingAndGlyphs"> .4</text>
<path class="g1 ns" d="M583.09 468.89 L581.09 468.89 L581.09 457.99 Q580.37 458.58 579.20 459.18 Q578.02 459.77 577.09 460.07 L577.09 458.39 Q578.76 457.69 580.02 456.70 Q581.27 455.71 581.79 454.93 L583.09 454.93 Z"/>
<rect x="629.95" y="539.65" width="21.60" height="193.90" fill="#231f20" stroke="#111" stroke-width="1.7"/>
<rect x="653.25" y="622.65" width="19.60" height="110.90" fill="#e2282e" stroke="#111" stroke-width="1.7"/>
<line x1="640.40" y1="538.80" x2="640.40" y2="485.80" stroke="#231f20" stroke-width="1.6" stroke-linecap="butt"/>
<line x1="638.70" y1="485.80" x2="642.10" y2="485.80" stroke="#231f20" stroke-width="2.2" stroke-linecap="round"/>
<line x1="662.70" y1="621.80" x2="662.70" y2="583.50" stroke="#231f20" stroke-width="1.6" stroke-linecap="butt"/>
<line x1="661.00" y1="583.50" x2="664.40" y2="583.50" stroke="#231f20" stroke-width="2.2" stroke-linecap="round"/>
<text x="31.30" y="731.92" transform="rotate(-90 31.30 731.92)" font-size="22.5" textLength="277.47" lengthAdjust="spacingAndGlyphs">Relative mRNA expression</text>
<text x="0.05" y="779.60" font-size="21.5" font-weight="bold">E</text>
<line x1="88.90" y1="801.40" x2="88.90" y2="982.85" stroke="#231f20" stroke-width="1.5" stroke-linecap="butt"/>
<line x1="84.40" y1="982.10" x2="89.65" y2="982.10" stroke="#231f20" stroke-width="1.5" stroke-linecap="butt"/>
<line x1="84.40" y1="959.51" x2="89.65" y2="959.51" stroke="#231f20" stroke-width="1.5" stroke-linecap="butt"/>
<line x1="84.40" y1="936.92" x2="89.65" y2="936.92" stroke="#231f20" stroke-width="1.5" stroke-linecap="butt"/>
<line x1="84.40" y1="914.34" x2="89.65" y2="914.34" stroke="#231f20" stroke-width="1.5" stroke-linecap="butt"/>
<line x1="84.40" y1="891.75" x2="89.65" y2="891.75" stroke="#231f20" stroke-width="1.5" stroke-linecap="butt"/>
<line x1="84.40" y1="869.16" x2="89.65" y2="869.16" stroke="#231f20" stroke-width="1.5" stroke-linecap="butt"/>
<line x1="84.40" y1="846.58" x2="89.65" y2="846.58" stroke="#231f20" stroke-width="1.5" stroke-linecap="butt"/>
<line x1="84.40" y1="823.99" x2="89.65" y2="823.99" stroke="#231f20" stroke-width="1.5" stroke-linecap="butt"/>
<line x1="84.40" y1="801.40" x2="89.65" y2="801.40" stroke="#231f20" stroke-width="1.5" stroke-linecap="butt"/>
<text x="65.85" y="989.08" font-size="20">0</text>
<text x="49.40" y="966.49" font-size="20">0.2</text>
<text x="48.95" y="943.90" font-size="20">0.4</text>
<text x="49.25" y="921.31" font-size="20">0.6</text>
<text x="49.25" y="898.73" font-size="20">0.8</text>
<text x="49.15" y="876.14" font-size="20"> .0</text>
<path class="g1" d="M56.60 876.14 L54.84 876.14 L54.84 865.40 Q54.21 865.98 53.17 866.57 Q52.14 867.15 51.32 867.45 L51.32 865.79 Q52.79 865.10 53.90 864.13 Q55.00 863.15 55.46 862.38 L56.60 862.38 Z"/>
<text x="49.40" y="853.65" font-size="20"> .2</text>
<path class="g1" d="M56.85 853.65 L55.09 853.65 L55.09 842.91 Q54.46 843.49 53.42 844.08 Q52.39 844.67 51.57 844.96 L51.57 843.30 Q53.04 842.61 54.15 841.64 Q55.25 840.66 55.71 839.89 L56.85 839.89 Z"/>
<text x="48.95" y="830.97" font-size="20"> .4</text>
<path class="g1" d="M56.40 830.97 L54.64 830.97 L54.64 820.23 Q54.01 820.81 52.97 821.40 Q51.94 821.98 51.12 822.28 L51.12 820.62 Q52.59 819.93 53.70 818.96 Q54.80 817.98 55.26 817.21 L56.40 817.21 Z"/>
<text x="49.25" y="808.38" font-size="20"> .6</text>
<path class="g1" d="M56.70 808.38 L54.94 808.38 L54.94 797.63 Q54.31 798.22 53.27 798.80 Q52.24 799.39 51.42 799.68 L51.42 798.02 Q52.89 797.34 54.00 796.36 Q55.10 795.39 55.56 794.62 L56.70 794.62 Z"/>
<line x1="84.40" y1="982.10" x2="218.70" y2="982.10" stroke="#231f20" stroke-width="1.6" stroke-linecap="butt"/>
<line x1="88.80" y1="982.10" x2="88.80" y2="986.60" stroke="#231f20" stroke-width="1.4" stroke-linecap="butt"/>
<line x1="114.60" y1="982.10" x2="114.60" y2="986.60" stroke="#231f20" stroke-width="1.4" stroke-linecap="butt"/>
<line x1="140.40" y1="982.10" x2="140.40" y2="986.60" stroke="#231f20" stroke-width="1.4" stroke-linecap="butt"/>
<line x1="166.40" y1="982.10" x2="166.40" y2="986.60" stroke="#231f20" stroke-width="1.4" stroke-linecap="butt"/>
<line x1="192.20" y1="982.10" x2="192.20" y2="986.60" stroke="#231f20" stroke-width="1.4" stroke-linecap="butt"/>
<line x1="218.00" y1="982.10" x2="218.00" y2="986.60" stroke="#231f20" stroke-width="1.4" stroke-linecap="butt"/>
<text x="93.66" y="1009.80" font-size="20.6" textLength="10.66" lengthAdjust="spacingAndGlyphs">0</text>
<text x="124.48" y="1009.80" font-size="20.6" textLength="10.66" lengthAdjust="spacingAndGlyphs">2</text>
<text x="155.23" y="1009.80" font-size="20.6" textLength="10.66" lengthAdjust="spacingAndGlyphs">4</text>
<text x="189.01" y="1009.80" font-size="20.6" textLength="10.66" lengthAdjust="spacingAndGlyphs">6</text>
<text x="208.78" y="1009.80" font-size="20.6" textLength="10.66" lengthAdjust="spacingAndGlyphs">8</text>
<text x="115.12" y="1044.00" font-size="20.6" textLength="78.00" lengthAdjust="spacingAndGlyphs">Time (h)</text>
<text x="25.30" y="965.46" transform="rotate(-90 25.30 965.46)" font-size="20.5">Triglyceride (g/l)</text>
<line x1="107.60" y1="906.70" x2="107.60" y2="920.00" stroke="#333" stroke-width="1.1" stroke-linecap="butt"/>
<line x1="105.30" y1="906.70" x2="109.90" y2="906.70" stroke="#333" stroke-width="1.5" stroke-linecap="butt"/>
<line x1="105.30" y1="920.00" x2="109.90" y2="920.00" stroke="#333" stroke-width="1.5" stroke-linecap="butt"/>
<line x1="132.10" y1="818.40" x2="132.10" y2="911.30" stroke="#333" stroke-width="1.1" stroke-linecap="butt"/>
<line x1="129.80" y1="818.40" x2="134.40" y2="818.40" stroke="#333" stroke-width="1.5" stroke-linecap="butt"/>
<line x1="129.80" y1="911.30" x2="134.40" y2="911.30" stroke="#333" stroke-width="1.5" stroke-linecap="butt"/>
<line x1="132.10" y1="867.50" x2="132.10" y2="867.50" stroke="#333" stroke-width="1.1" stroke-linecap="butt"/>
<line x1="129.80" y1="867.50" x2="134.40" y2="867.50" stroke="#333" stroke-width="1.5" stroke-linecap="butt"/>
<line x1="129.80" y1="867.50" x2="134.40" y2="867.50" stroke="#333" stroke-width="1.5" stroke-linecap="butt"/>
<line x1="157.20" y1="911.30" x2="157.20" y2="940.50" stroke="#333" stroke-width="1.1" stroke-linecap="butt"/>
<line x1="154.90" y1="911.30" x2="159.50" y2="911.30" stroke="#333" stroke-width="1.5" stroke-linecap="butt"/>
<line x1="154.90" y1="940.50" x2="159.50" y2="940.50" stroke="#333" stroke-width="1.5" stroke-linecap="butt"/>
<line x1="182.10" y1="915.10" x2="182.10" y2="941.40" stroke="#333" stroke-width="1.1" stroke-linecap="butt"/>
<line x1="179.80" y1="915.10" x2="184.40" y2="915.10" stroke="#333" stroke-width="1.5" stroke-linecap="butt"/>
<line x1="179.80" y1="941.40" x2="184.40" y2="941.40" stroke="#333" stroke-width="1.5" stroke-linecap="butt"/>
<line x1="206.80" y1="903.70" x2="206.80" y2="953.70" stroke="#333" stroke-width="1.1" stroke-linecap="butt"/>
<line x1="204.50" y1="903.70" x2="209.10" y2="903.70" stroke="#333" stroke-width="1.5" stroke-linecap="butt"/>
<line x1="204.50" y1="953.70" x2="209.10" y2="953.70" stroke="#333" stroke-width="1.5" stroke-linecap="butt"/>
<line x1="157.20" y1="951.50" x2="157.20" y2="958.50" stroke="#333" stroke-width="1.1" stroke-linecap="butt"/>
<line x1="154.90" y1="951.50" x2="159.50" y2="951.50" stroke="#333" stroke-width="1.5" stroke-linecap="butt"/>
<line x1="154.90" y1="958.50" x2="159.50" y2="958.50" stroke="#333" stroke-width="1.5" stroke-linecap="butt"/>
<line x1="182.10" y1="950.50" x2="182.10" y2="957.00" stroke="#333" stroke-width="1.1" stroke-linecap="butt"/>
<line x1="179.80" y1="950.50" x2="184.40" y2="950.50" stroke="#333" stroke-width="1.5" stroke-linecap="butt"/>
<line x1="179.80" y1="957.00" x2="184.40" y2="957.00" stroke="#333" stroke-width="1.5" stroke-linecap="butt"/>
<path d="M107.60 924.80 C111.68 918.95 123.83 884.65 132.10 889.70 C140.37 894.75 148.87 944.43 157.20 955.10 C165.53 965.77 173.83 954.87 182.10 953.70 C190.37 952.53 202.68 949.03 206.80 948.10" fill="none" stroke="#231f20" stroke-width="1.3"/>
<path d="M107.60 913.40 C111.68 903.23 123.83 850.37 132.10 852.40 C140.37 854.43 148.87 912.95 157.20 925.60 C165.53 938.25 173.83 928.58 182.10 928.30 C190.37 928.02 202.68 924.63 206.80 923.90" fill="none" stroke="#ee3b3f" stroke-width="1.3"/>
<ellipse cx="107.60" cy="924.80" rx="3.0" ry="3.6" fill="#231f20"/>
<ellipse cx="132.10" cy="889.70" rx="3.0" ry="3.6" fill="#231f20"/>
<ellipse cx="157.20" cy="955.10" rx="3.0" ry="3.6" fill="#231f20"/>
<ellipse cx="182.10" cy="953.70" rx="3.0" ry="3.6" fill="#231f20"/>
<ellipse cx="206.80" cy="948.10" rx="3.0" ry="3.6" fill="#231f20"/>
<ellipse cx="107.60" cy="913.40" rx="2.7" ry="3.3" fill="#e2282e" stroke="#231f20" stroke-width="1.0"/>
<ellipse cx="132.10" cy="852.40" rx="2.7" ry="3.3" fill="#e2282e" stroke="#231f20" stroke-width="1.0"/>
<ellipse cx="157.20" cy="925.60" rx="2.7" ry="3.3" fill="#e2282e" stroke="#231f20" stroke-width="1.0"/>
<ellipse cx="182.10" cy="928.30" rx="2.7" ry="3.3" fill="#e2282e" stroke="#231f20" stroke-width="1.0"/>
<ellipse cx="206.80" cy="923.90" rx="2.7" ry="3.3" fill="#e2282e" stroke="#231f20" stroke-width="1.0"/>
<text x="247.25" y="779.60" font-size="21.5" font-weight="bold">F</text>
<line x1="322.80" y1="809.60" x2="322.80" y2="986.85" stroke="#231f20" stroke-width="1.5" stroke-linecap="butt"/>
<line x1="318.30" y1="986.10" x2="323.55" y2="986.10" stroke="#231f20" stroke-width="1.5" stroke-linecap="butt"/>
<line x1="318.30" y1="960.89" x2="323.55" y2="960.89" stroke="#231f20" stroke-width="1.5" stroke-linecap="butt"/>
<line x1="318.30" y1="935.67" x2="323.55" y2="935.67" stroke="#231f20" stroke-width="1.5" stroke-linecap="butt"/>
<line x1="318.30" y1="910.46" x2="323.55" y2="910.46" stroke="#231f20" stroke-width="1.5" stroke-linecap="butt"/>
<line x1="318.30" y1="885.24" x2="323.55" y2="885.24" stroke="#231f20" stroke-width="1.5" stroke-linecap="butt"/>
<line x1="318.30" y1="860.03" x2="323.55" y2="860.03" stroke="#231f20" stroke-width="1.5" stroke-linecap="butt"/>
<line x1="318.30" y1="834.81" x2="323.55" y2="834.81" stroke="#231f20" stroke-width="1.5" stroke-linecap="butt"/>
<line x1="318.30" y1="809.60" x2="323.55" y2="809.60" stroke="#231f20" stroke-width="1.5" stroke-linecap="butt"/>
<text x="297.94" y="993.21" font-size="20.4">0</text>
<text x="282.66" y="968.00" font-size="20.4" textLength="29.78" lengthAdjust="spacingAndGlyphs">0. </text>
<path class="g1" d="M308.50 968.00 L306.62 968.00 L306.62 957.04 Q305.94 957.64 304.83 958.24 Q303.72 958.83 302.84 959.13 L302.84 957.44 Q304.42 956.74 305.60 955.75 Q306.78 954.75 307.28 953.96 L308.50 953.96 Z"/>
<text x="279.80" y="942.78" font-size="20.4" textLength="29.78" lengthAdjust="spacingAndGlyphs">0.2</text>
<text x="279.64" y="917.57" font-size="20.4" textLength="29.78" lengthAdjust="spacingAndGlyphs">0.3</text>
<text x="279.32" y="892.36" font-size="20.4" textLength="29.78" lengthAdjust="spacingAndGlyphs">0.4</text>
<text x="279.58" y="867.14" font-size="20.4" textLength="29.78" lengthAdjust="spacingAndGlyphs">0.5</text>
<text x="279.64" y="841.93" font-size="20.4" textLength="29.78" lengthAdjust="spacingAndGlyphs">0.6</text>
<text x="279.80" y="816.71" font-size="20.4" textLength="29.78" lengthAdjust="spacingAndGlyphs">0.7</text>
<line x1="318.30" y1="986.10" x2="446.20" y2="986.10" stroke="#231f20" stroke-width="1.6" stroke-linecap="butt"/>
<line x1="323.30" y1="986.10" x2="323.30" y2="990.60" stroke="#231f20" stroke-width="1.4" stroke-linecap="butt"/>
<line x1="347.40" y1="986.10" x2="347.40" y2="990.60" stroke="#231f20" stroke-width="1.4" stroke-linecap="butt"/>
<line x1="371.90" y1="986.10" x2="371.90" y2="990.60" stroke="#231f20" stroke-width="1.4" stroke-linecap="butt"/>
<line x1="397.10" y1="986.10" x2="397.10" y2="990.60" stroke="#231f20" stroke-width="1.4" stroke-linecap="butt"/>
<line x1="421.20" y1="986.10" x2="421.20" y2="990.60" stroke="#231f20" stroke-width="1.4" stroke-linecap="butt"/>
<line x1="445.50" y1="986.10" x2="445.50" y2="990.60" stroke="#231f20" stroke-width="1.4" stroke-linecap="butt"/>
<text x="324.16" y="1012.60" font-size="20.6" textLength="10.66" lengthAdjust="spacingAndGlyphs">0</text>
<text x="353.98" y="1012.60" font-size="20.6" textLength="10.66" lengthAdjust="spacingAndGlyphs">2</text>
<text x="384.43" y="1012.60" font-size="20.6" textLength="10.66" lengthAdjust="spacingAndGlyphs">4</text>
<text x="417.51" y="1012.60" font-size="20.6" textLength="10.66" lengthAdjust="spacingAndGlyphs">6</text>
<text x="445.98" y="1012.60" font-size="20.6" textLength="10.66" lengthAdjust="spacingAndGlyphs">8</text>
<text x="346.42" y="1044.00" font-size="20.6" textLength="77.90" lengthAdjust="spacingAndGlyphs">Time (h)</text>
<text x="262.50" y="979.61" transform="rotate(-90 262.50 979.61)" font-size="20.8" textLength="151.63" lengthAdjust="spacingAndGlyphs">Free glycerol (g/l)</text>
<line x1="341.70" y1="887.00" x2="341.70" y2="904.40" stroke="#333" stroke-width="1.1" stroke-linecap="butt"/>
<line x1="339.40" y1="887.00" x2="344.00" y2="887.00" stroke="#333" stroke-width="1.5" stroke-linecap="butt"/>
<line x1="339.40" y1="904.40" x2="344.00" y2="904.40" stroke="#333" stroke-width="1.5" stroke-linecap="butt"/>
<line x1="365.20" y1="831.90" x2="365.20" y2="857.90" stroke="#333" stroke-width="1.1" stroke-linecap="butt"/>
<line x1="362.90" y1="831.90" x2="367.50" y2="831.90" stroke="#333" stroke-width="1.5" stroke-linecap="butt"/>
<line x1="362.90" y1="857.90" x2="367.50" y2="857.90" stroke="#333" stroke-width="1.5" stroke-linecap="butt"/>
<line x1="365.20" y1="875.90" x2="365.20" y2="887.30" stroke="#333" stroke-width="1.1" stroke-linecap="butt"/>
<line x1="362.90" y1="875.90" x2="367.50" y2="875.90" stroke="#333" stroke-width="1.5" stroke-linecap="butt"/>
<line x1="362.90" y1="887.30" x2="367.50" y2="887.30" stroke="#333" stroke-width="1.5" stroke-linecap="butt"/>
<line x1="389.50" y1="865.10" x2="389.50" y2="887.30" stroke="#333" stroke-width="1.1" stroke-linecap="butt"/>
<line x1="387.20" y1="865.10" x2="391.80" y2="865.10" stroke="#333" stroke-width="1.5" stroke-linecap="butt"/>
<line x1="387.20" y1="887.30" x2="391.80" y2="887.30" stroke="#333" stroke-width="1.5" stroke-linecap="butt"/>
<line x1="389.50" y1="901.00" x2="389.50" y2="914.80" stroke="#333" stroke-width="1.1" stroke-linecap="butt"/>
<line x1="387.20" y1="901.00" x2="391.80" y2="901.00" stroke="#333" stroke-width="1.5" stroke-linecap="butt"/>
<line x1="387.20" y1="914.80" x2="391.80" y2="914.80" stroke="#333" stroke-width="1.5" stroke-linecap="butt"/>
<line x1="413.30" y1="856.40" x2="413.30" y2="872.50" stroke="#333" stroke-width="1.1" stroke-linecap="butt"/>
<line x1="411.00" y1="856.40" x2="415.60" y2="856.40" stroke="#333" stroke-width="1.5" stroke-linecap="butt"/>
<line x1="411.00" y1="872.50" x2="415.60" y2="872.50" stroke="#333" stroke-width="1.5" stroke-linecap="butt"/>
<line x1="413.30" y1="898.10" x2="413.30" y2="909.10" stroke="#333" stroke-width="1.1" stroke-linecap="butt"/>
<line x1="411.00" y1="898.10" x2="415.60" y2="898.10" stroke="#333" stroke-width="1.5" stroke-linecap="butt"/>
<line x1="411.00" y1="909.10" x2="415.60" y2="909.10" stroke="#333" stroke-width="1.5" stroke-linecap="butt"/>
<line x1="437.40" y1="859.20" x2="437.40" y2="903.40" stroke="#333" stroke-width="1.1" stroke-linecap="butt"/>
<line x1="435.10" y1="859.20" x2="439.70" y2="859.20" stroke="#333" stroke-width="1.5" stroke-linecap="butt"/>
<line x1="435.10" y1="903.40" x2="439.70" y2="903.40" stroke="#333" stroke-width="1.5" stroke-linecap="butt"/>
<path d="M341.70 900.00 C345.62 896.93 357.23 880.23 365.20 881.60 C373.17 882.97 381.48 904.57 389.50 908.20 C397.52 911.83 405.32 906.35 413.30 903.40 C421.28 900.45 433.38 892.65 437.40 890.50" fill="none" stroke="#231f20" stroke-width="1.3"/>
<path d="M341.70 890.70 C345.62 882.95 357.23 846.73 365.20 844.20 C373.17 841.67 381.48 872.20 389.50 875.50 C397.52 878.80 405.32 864.08 413.30 864.00 C421.28 863.92 433.38 873.17 437.40 875.00" fill="none" stroke="#ee3b3f" stroke-width="1.3"/>
<ellipse cx="341.70" cy="900.00" rx="3.0" ry="3.6" fill="#231f20"/>
<ellipse cx="365.20" cy="881.60" rx="3.0" ry="3.6" fill="#231f20"/>
<ellipse cx="389.50" cy="908.20" rx="3.0" ry="3.6" fill="#231f20"/>
<ellipse cx="413.30" cy="903.40" rx="3.0" ry="3.6" fill="#231f20"/>
<ellipse cx="437.40" cy="890.50" rx="3.0" ry="3.6" fill="#231f20"/>
<ellipse cx="341.70" cy="890.70" rx="2.7" ry="3.3" fill="#e2282e" stroke="#231f20" stroke-width="1.0"/>
<ellipse cx="365.20" cy="844.20" rx="2.7" ry="3.3" fill="#e2282e" stroke="#231f20" stroke-width="1.0"/>
<ellipse cx="389.50" cy="875.50" rx="2.7" ry="3.3" fill="#e2282e" stroke="#231f20" stroke-width="1.0"/>
<ellipse cx="413.30" cy="864.00" rx="2.7" ry="3.3" fill="#e2282e" stroke="#231f20" stroke-width="1.0"/>
<ellipse cx="437.40" cy="875.00" rx="2.7" ry="3.3" fill="#e2282e" stroke="#231f20" stroke-width="1.0"/>
<path d="M364.50 810.30L364.50 804.90M364.50 810.30L360.60 808.50M364.50 810.30L368.40 808.50M364.50 810.30L362.20 814.40M364.50 810.30L366.80 814.40" stroke="#231f20" stroke-width="2.35" stroke-linecap="round" fill="none"/>
<path d="M390.40 838.10L390.40 832.70M390.40 838.10L386.50 836.30M390.40 838.10L394.30 836.30M390.40 838.10L388.10 842.20M390.40 838.10L392.70 842.20" stroke="#231f20" stroke-width="2.35" stroke-linecap="round" fill="none"/>
<path d="M414.50 831.20L414.50 825.80M414.50 831.20L410.60 829.40M414.50 831.20L418.40 829.40M414.50 831.20L412.20 835.30M414.50 831.20L416.80 835.30" stroke="#231f20" stroke-width="2.35" stroke-linecap="round" fill="none"/>
<text x="488.14" y="779.60" font-size="21.5" font-weight="bold">G</text>
<line x1="558.40" y1="808.70" x2="558.40" y2="988.55" stroke="#231f20" stroke-width="1.5" stroke-linecap="butt"/>
<line x1="553.90" y1="987.80" x2="559.15" y2="987.80" stroke="#231f20" stroke-width="1.5" stroke-linecap="butt"/>
<line x1="553.90" y1="951.98" x2="559.15" y2="951.98" stroke="#231f20" stroke-width="1.5" stroke-linecap="butt"/>
<line x1="553.90" y1="916.16" x2="559.15" y2="916.16" stroke="#231f20" stroke-width="1.5" stroke-linecap="butt"/>
<line x1="553.90" y1="880.34" x2="559.15" y2="880.34" stroke="#231f20" stroke-width="1.5" stroke-linecap="butt"/>
<line x1="553.90" y1="844.52" x2="559.15" y2="844.52" stroke="#231f20" stroke-width="1.5" stroke-linecap="butt"/>
<line x1="553.90" y1="808.70" x2="559.15" y2="808.70" stroke="#231f20" stroke-width="1.5" stroke-linecap="butt"/>
<text x="535.75" y="994.71" font-size="19.8">0</text>
<text x="518.74" y="958.89" font-size="19.8" textLength="28.08" lengthAdjust="spacingAndGlyphs">0.5</text>
<text x="518.68" y="923.07" font-size="19.8" textLength="28.08" lengthAdjust="spacingAndGlyphs"> .0</text>
<path class="g1" d="M526.21 923.07 L524.43 923.07 L524.43 912.43 Q523.79 913.01 522.75 913.59 Q521.70 914.17 520.87 914.46 L520.87 912.82 Q522.36 912.14 523.48 911.17 Q524.59 910.21 525.06 909.44 L526.21 909.44 Z"/>
<text x="518.74" y="887.15" font-size="19.8" textLength="28.08" lengthAdjust="spacingAndGlyphs"> .5</text>
<path class="g1" d="M526.26 887.15 L524.48 887.15 L524.48 876.52 Q523.84 877.10 522.80 877.68 Q521.75 878.26 520.92 878.55 L520.92 876.90 Q522.41 876.23 523.53 875.26 Q524.64 874.29 525.11 873.53 L526.26 873.53 Z"/>
<text x="518.68" y="851.43" font-size="19.8" textLength="28.08" lengthAdjust="spacingAndGlyphs">2.0</text>
<text x="518.74" y="815.61" font-size="19.8" textLength="28.08" lengthAdjust="spacingAndGlyphs">2.5</text>
<line x1="553.90" y1="987.80" x2="674.10" y2="987.80" stroke="#231f20" stroke-width="1.6" stroke-linecap="butt"/>
<line x1="558.40" y1="987.80" x2="558.40" y2="992.30" stroke="#231f20" stroke-width="1.4" stroke-linecap="butt"/>
<line x1="581.00" y1="987.80" x2="581.00" y2="992.30" stroke="#231f20" stroke-width="1.4" stroke-linecap="butt"/>
<line x1="604.60" y1="987.80" x2="604.60" y2="992.30" stroke="#231f20" stroke-width="1.4" stroke-linecap="butt"/>
<line x1="627.40" y1="987.80" x2="627.40" y2="992.30" stroke="#231f20" stroke-width="1.4" stroke-linecap="butt"/>
<line x1="650.60" y1="987.80" x2="650.60" y2="992.30" stroke="#231f20" stroke-width="1.4" stroke-linecap="butt"/>
<line x1="673.00" y1="987.80" x2="673.00" y2="992.30" stroke="#231f20" stroke-width="1.4" stroke-linecap="butt"/>
<text x="549.96" y="1015.30" font-size="20.6" textLength="10.66" lengthAdjust="spacingAndGlyphs">0</text>
<text x="578.18" y="1015.30" font-size="20.6" textLength="10.66" lengthAdjust="spacingAndGlyphs">2</text>
<text x="606.63" y="1015.30" font-size="20.6" textLength="10.66" lengthAdjust="spacingAndGlyphs">4</text>
<text x="637.51" y="1015.30" font-size="20.6" textLength="10.66" lengthAdjust="spacingAndGlyphs">6</text>
<text x="664.68" y="1015.30" font-size="20.6" textLength="10.66" lengthAdjust="spacingAndGlyphs">8</text>
<text x="577.92" y="1044.00" font-size="20.6" textLength="78.00" lengthAdjust="spacingAndGlyphs">Time (h)</text>
<text x="504.00" y="997.53" transform="rotate(-90 504.00 997.53)" font-size="21.3" textLength="198.47" lengthAdjust="spacingAndGlyphs">Free fatty acids (mmol/l)</text>
<line x1="575.80" y1="882.20" x2="575.80" y2="896.20" stroke="#333" stroke-width="1.1" stroke-linecap="butt"/>
<line x1="573.50" y1="882.20" x2="578.10" y2="882.20" stroke="#333" stroke-width="1.5" stroke-linecap="butt"/>
<line x1="573.50" y1="896.20" x2="578.10" y2="896.20" stroke="#333" stroke-width="1.5" stroke-linecap="butt"/>
<line x1="575.80" y1="901.50" x2="575.80" y2="920.70" stroke="#333" stroke-width="1.1" stroke-linecap="butt"/>
<line x1="573.50" y1="901.50" x2="578.10" y2="901.50" stroke="#333" stroke-width="1.5" stroke-linecap="butt"/>
<line x1="573.50" y1="920.70" x2="578.10" y2="920.70" stroke="#333" stroke-width="1.5" stroke-linecap="butt"/>
<line x1="597.70" y1="840.20" x2="597.70" y2="878.70" stroke="#333" stroke-width="1.1" stroke-linecap="butt"/>
<line x1="595.40" y1="840.20" x2="600.00" y2="840.20" stroke="#333" stroke-width="1.5" stroke-linecap="butt"/>
<line x1="595.40" y1="878.70" x2="600.00" y2="878.70" stroke="#333" stroke-width="1.5" stroke-linecap="butt"/>
<line x1="597.70" y1="894.50" x2="597.70" y2="901.80" stroke="#333" stroke-width="1.1" stroke-linecap="butt"/>
<line x1="595.40" y1="894.50" x2="600.00" y2="894.50" stroke="#333" stroke-width="1.5" stroke-linecap="butt"/>
<line x1="595.40" y1="901.80" x2="600.00" y2="901.80" stroke="#333" stroke-width="1.5" stroke-linecap="butt"/>
<line x1="619.90" y1="869.90" x2="619.90" y2="903.60" stroke="#333" stroke-width="1.1" stroke-linecap="butt"/>
<line x1="617.60" y1="869.90" x2="622.20" y2="869.90" stroke="#333" stroke-width="1.5" stroke-linecap="butt"/>
<line x1="617.60" y1="903.60" x2="622.20" y2="903.60" stroke="#333" stroke-width="1.5" stroke-linecap="butt"/>
<line x1="619.90" y1="915.80" x2="619.90" y2="922.90" stroke="#333" stroke-width="1.1" stroke-linecap="butt"/>
<line x1="617.60" y1="915.80" x2="622.20" y2="915.80" stroke="#333" stroke-width="1.5" stroke-linecap="butt"/>
<line x1="617.60" y1="922.90" x2="622.20" y2="922.90" stroke="#333" stroke-width="1.5" stroke-linecap="butt"/>
<line x1="642.30" y1="877.70" x2="642.30" y2="891.30" stroke="#333" stroke-width="1.1" stroke-linecap="butt"/>
<line x1="640.00" y1="877.70" x2="644.60" y2="877.70" stroke="#333" stroke-width="1.5" stroke-linecap="butt"/>
<line x1="640.00" y1="891.30" x2="644.60" y2="891.30" stroke="#333" stroke-width="1.5" stroke-linecap="butt"/>
<line x1="642.30" y1="914.00" x2="642.30" y2="920.20" stroke="#333" stroke-width="1.1" stroke-linecap="butt"/>
<line x1="640.00" y1="914.00" x2="644.60" y2="914.00" stroke="#333" stroke-width="1.5" stroke-linecap="butt"/>
<line x1="640.00" y1="920.20" x2="644.60" y2="920.20" stroke="#333" stroke-width="1.5" stroke-linecap="butt"/>
<line x1="664.20" y1="852.80" x2="664.20" y2="899.20" stroke="#333" stroke-width="1.1" stroke-linecap="butt"/>
<line x1="661.90" y1="852.80" x2="666.50" y2="852.80" stroke="#333" stroke-width="1.5" stroke-linecap="butt"/>
<line x1="661.90" y1="899.20" x2="666.50" y2="899.20" stroke="#333" stroke-width="1.5" stroke-linecap="butt"/>
<line x1="664.20" y1="904.50" x2="664.20" y2="914.10" stroke="#333" stroke-width="1.1" stroke-linecap="butt"/>
<line x1="661.90" y1="904.50" x2="666.50" y2="904.50" stroke="#333" stroke-width="1.5" stroke-linecap="butt"/>
<line x1="661.90" y1="914.10" x2="666.50" y2="914.10" stroke="#333" stroke-width="1.5" stroke-linecap="butt"/>
<path d="M575.80 910.60 C579.45 908.65 590.35 897.45 597.70 898.90 C605.05 900.35 612.47 916.33 619.90 919.30 C627.33 922.27 634.92 918.45 642.30 916.70 C649.68 914.95 660.55 910.12 664.20 908.80" fill="none" stroke="#231f20" stroke-width="1.3"/>
<path d="M575.80 888.30 C579.45 883.40 590.35 859.27 597.70 858.90 C605.05 858.53 612.47 881.92 619.90 886.10 C627.33 890.28 634.92 885.85 642.30 884.00 C649.68 882.15 660.55 876.50 664.20 875.00" fill="none" stroke="#ee3b3f" stroke-width="1.3"/>
<ellipse cx="575.80" cy="910.60" rx="3.0" ry="3.6" fill="#231f20"/>
<ellipse cx="597.70" cy="898.90" rx="3.0" ry="3.6" fill="#231f20"/>
<ellipse cx="619.90" cy="919.30" rx="3.0" ry="3.6" fill="#231f20"/>
<ellipse cx="642.30" cy="916.70" rx="3.0" ry="3.6" fill="#231f20"/>
<ellipse cx="664.20" cy="908.80" rx="3.0" ry="3.6" fill="#231f20"/>
<ellipse cx="575.80" cy="888.30" rx="2.7" ry="3.3" fill="#e2282e" stroke="#231f20" stroke-width="1.0"/>
<ellipse cx="597.70" cy="858.90" rx="2.7" ry="3.3" fill="#e2282e" stroke="#231f20" stroke-width="1.0"/>
<ellipse cx="619.90" cy="886.10" rx="2.7" ry="3.3" fill="#e2282e" stroke="#231f20" stroke-width="1.0"/>
<ellipse cx="642.30" cy="884.00" rx="2.7" ry="3.3" fill="#e2282e" stroke="#231f20" stroke-width="1.0"/>
<ellipse cx="664.20" cy="875.00" rx="2.7" ry="3.3" fill="#e2282e" stroke="#231f20" stroke-width="1.0"/>
<path d="M642.10 844.20L642.10 838.80M642.10 844.20L638.20 842.40M642.10 844.20L646.00 842.40M642.10 844.20L639.80 848.30M642.10 844.20L644.40 848.30" stroke="#231f20" stroke-width="2.35" stroke-linecap="round" fill="none"/>
</svg>
</body></html>
